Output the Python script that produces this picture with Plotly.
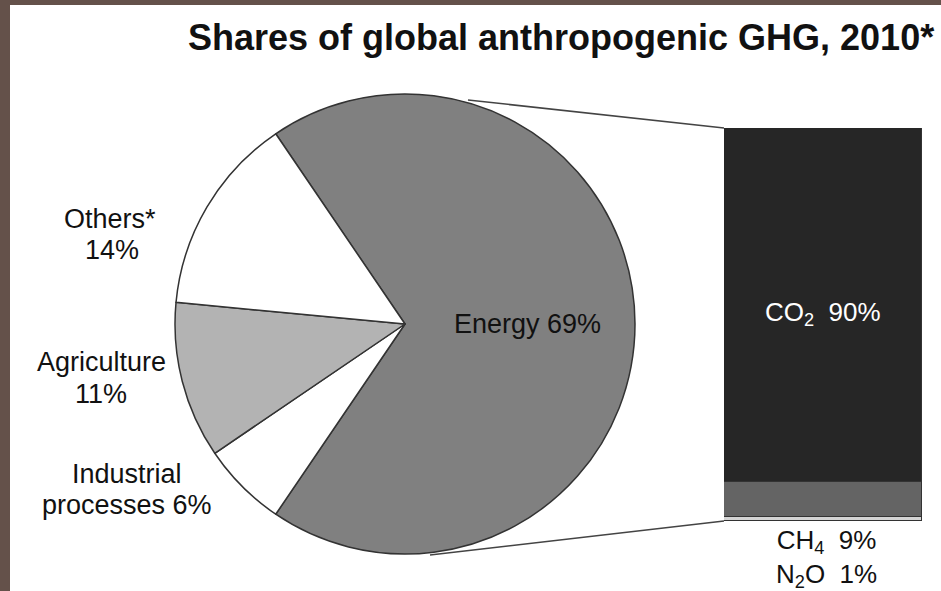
import plotly.graph_objects as go

W, H = 941, 591

# ---- data ----
sectors = ["Energy", "Industrial processes", "Agriculture", "Others*"]
sector_shares = [69, 6, 11, 14]
sector_colors = ["#808080", "#ffffff", "#b3b3b3", "#ffffff"]

gases = ["N<sub>2</sub>O", "CH<sub>4</sub>", "CO<sub>2</sub>"]
gas_shares = [1, 9, 90]
gas_colors = ["#d4d4d4", "#646464", "#262626"]

title_text = "Shares of global anthropogenic GHG, 2010*"

# ---- layout helpers (pixel -> paper) ----
def px(x):
    return x / W

def py(y):
    return 1 - y / H

cx, cy, r = 405, 324, 230          # pie centre / radius in px
bar_l, bar_r, bar_t, bar_b = 724, 922, 128, 521

FONT = "Liberation Sans, Arial, sans-serif"
TXT = "#111111"

fig = go.Figure()

rotation = 90 - sector_shares[0] * 3.6 / 2
fig.add_trace(go.Pie(
    labels=sectors, values=sector_shares, sort=False, direction="clockwise",
    rotation=rotation,
    marker=dict(colors=sector_colors, line=dict(color="#333333", width=1.5)),
    textinfo="none", showlegend=False, hoverinfo="label+percent",
    domain=dict(x=[px(cx - r), px(cx + r)], y=[py(cy + r), py(cy - r)]),
))

for g, v, c in zip(gases, gas_shares, gas_colors):
    fig.add_trace(go.Bar(
        x=[0], y=[v], name=g, width=1,
        marker=dict(color=c, line=dict(color="#333333", width=1.2)),
        showlegend=False, hovertemplate=g + ": %{y}%<extra></extra>",
    ))

shapes = [
    dict(type="rect", xref="paper", yref="paper", x0=px(10), x1=1, y0=0, y1=py(5),
         fillcolor="white", line=dict(width=0), layer="below"),
    dict(type="line", xref="paper", yref="paper", x0=px(468), y0=py(100),
         x1=px(bar_l), y1=py(bar_t), line=dict(color="#444444", width=1.5)),
    dict(type="line", xref="paper", yref="paper", x0=px(430), y0=py(555),
         x1=px(bar_l), y1=py(bar_b), line=dict(color="#444444", width=1.5)),
]

ann = []
def label(x, y, text, size=27, color=TXT):
    ann.append(dict(x=px(x), y=py(y), xref="paper", yref="paper", text=text,
                    showarrow=False, xanchor="center", yanchor="middle",
                    font=dict(family=FONT, size=size, color=color)))

label(561, 37, "<b>" + title_text + "</b>", size=36)

# sector labels
label(527, 324, f"{sectors[0]} {sector_shares[0]}%")
label(110, 219, sectors[3])
label(112, 250, f"{sector_shares[3]}%")
label(101, 362, sectors[2])
label(101, 394, f"{sector_shares[2]}%")
label(127, 474, sectors[1].split()[0])
label(127, 505, f"{sectors[1].split()[1]} {sector_shares[1]}%")

# gas labels
label(823, 313, f"{gases[2]}  {gas_shares[2]}%", color="white", size=26)
label(826, 558, f"{gases[1]}  {gas_shares[1]}%<br>{gases[0]}  {gas_shares[0]}%", size=26)

fig.update_layout(
    width=W, height=H, margin=dict(l=0, r=0, t=0, b=0),
    paper_bgcolor="#64514A", plot_bgcolor="rgba(0,0,0,0)",
    barmode="stack", bargap=0,
    xaxis=dict(domain=[px(bar_l), px(bar_r)], range=[-0.5, 0.5], visible=False, fixedrange=True),
    yaxis=dict(domain=[py(bar_b), py(bar_t)], range=[0, 100], visible=False, fixedrange=True),
    shapes=shapes, annotations=ann,
    font=dict(family=FONT, color=TXT),
)

fig.write_html("out.html")
